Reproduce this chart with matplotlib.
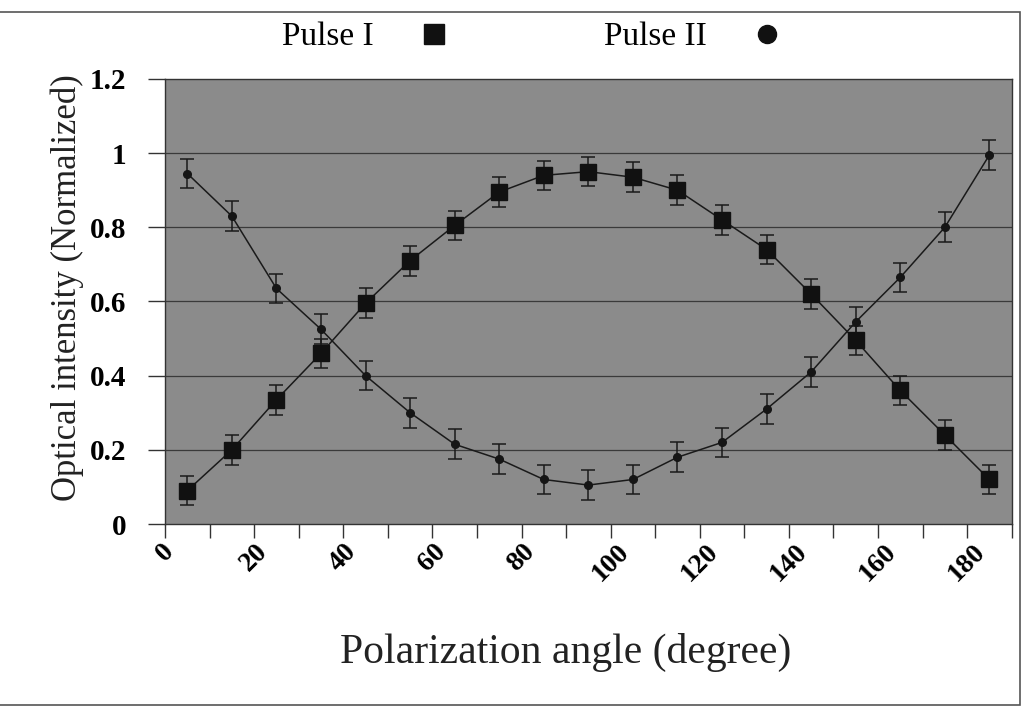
import numpy as np
import matplotlib
matplotlib.use("Agg")
import matplotlib.pyplot as plt
from matplotlib.patches import Rectangle
from matplotlib.lines import Line2D

###
# DATA
###
angles = [5, 15, 25, 35, 45, 55, 65, 75, 85, 95, 105, 115, 125, 135, 145, 155, 165, 175, 185]
pulse1 = [0.09, 0.20, 0.335, 0.46, 0.595, 0.71, 0.805, 0.895, 0.94, 0.95,
          0.935, 0.90, 0.82, 0.74, 0.62, 0.495, 0.36, 0.24, 0.12]
pulse2 = [0.945, 0.83, 0.635, 0.525, 0.40, 0.30, 0.215, 0.175, 0.12, 0.105,
          0.12, 0.18, 0.22, 0.31, 0.41, 0.545, 0.665, 0.80, 0.995]
err1 = [0.04] * 19
err2 = [0.04] * 19
xticks = list(range(0, 200, 10))
xlabels = ["0", "20", "40", "60", "80", "100", "120", "140", "160", "180"]
yticks = [0, 0.2, 0.4, 0.6, 0.8, 1.0, 1.2]
ylabels = ["0", "0.2", "0.4", "0.6", "0.8", "1", "1.2"]

plt.rcParams['font.family'] = ['Liberation Serif', 'DejaVu Serif']

fig = plt.figure(figsize=(10.25, 7.11), dpi=100)
ax = fig.add_axes([0.161, 0.263, 0.826, 0.626])
ax.set_facecolor("#8b8b8b")

# frame around the whole chart (as in the scanned figure)
fig.patches.append(Rectangle((-0.01, 0.008), 1.005, 0.975, transform=fig.transFigure,
                             fill=False, edgecolor="#555555", lw=1.2))

for y in yticks[1:-1]:
    ax.axhline(y, color="#3a3a3a", lw=0.9, zorder=1)

ax.errorbar(angles, pulse1, yerr=err1, color="#1a1a1a", lw=1.1, marker="s",
            markersize=11, markerfacecolor="#111111", markeredgecolor="#111111",
            ecolor="#1a1a1a", elinewidth=1.1, capsize=5, capthick=1.1, zorder=3)
ax.errorbar(angles, pulse2, yerr=err2, color="#1a1a1a", lw=1.1, marker="o",
            markersize=5.5, markerfacecolor="#151515", markeredgecolor="#151515",
            ecolor="#1a1a1a", elinewidth=1.1, capsize=5, capthick=1.1, zorder=3)

ax.set_xlim(0, 190)
ax.set_ylim(0, 1.2)
ax.set_xticks(xticks)
ax.set_xticklabels([xlabels[i // 2] if i % 2 == 0 else "" for i in range(len(xticks))],
                   rotation=45, ha="center", fontsize=20, fontweight="bold")
ax.set_yticks(yticks)
ax.set_yticklabels(ylabels, fontsize=21, fontweight="bold")
ax.tick_params(axis="x", direction="out", length=10, width=1, color="#333333", pad=1)
ax.tick_params(axis="y", direction="out", length=12, width=1, color="#333333", pad=16)
for s in ax.spines.values():
    s.set_color("#333333")
    s.set_linewidth(1)

ax.set_xlabel("Polarization angle (degree)", fontsize=30, color="#222222")
ax.xaxis.set_label_coords(0.473, -0.245)
ax.set_ylabel("Optical intensity (Normalized)", fontsize=25, color="#222222")
ax.yaxis.set_label_coords(-0.096, 0.53)

# legend: text followed by marker only
handles = [Line2D([], [], ls="none", marker="s", markersize=14, color="#111111"),
           Line2D([], [], ls="none", marker="o", markersize=13, color="#111111")]
leg = fig.legend(handles, ["Pulse I", "Pulse II"], loc="center",
                 bbox_to_anchor=(0.52, 0.948), ncol=2, frameon=False,
                 markerfirst=False, fontsize=24, handlelength=1.0, columnspacing=4.6,
                 handletextpad=1.3)

fig.savefig("out.png", dpi=100)
